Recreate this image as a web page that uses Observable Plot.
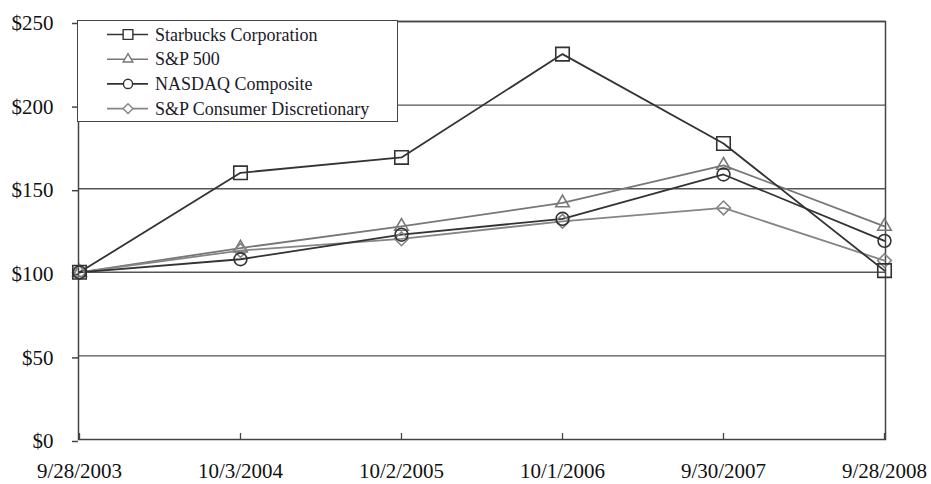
<!DOCTYPE html>
<html>
<head>
<meta charset="utf-8">
<script src="https://cdn.jsdelivr.net/npm/d3@7"></script>
<script src="https://cdn.jsdelivr.net/npm/@observablehq/plot@0.6"></script>
<style>
  html, body { margin: 0; padding: 0; background: #fff; }
  #wrap { position: relative; width: 931px; height: 484px; }
  #legend { position: absolute; left: 77px; top: 20px; width: 319px; height: 100px;
            border: 1.5px solid #444; background: #fff; }
  svg { font-family: "Liberation Serif", "Times New Roman", serif; overflow: visible; }
</style>
</head>
<body>
<div id="wrap"></div>
<script>
const dates = ["9/28/2003", "10/3/2004", "10/2/2005", "10/1/2006", "9/30/2007", "9/28/2008"];
const seriesNames = ["Starbucks Corporation", "S&P 500", "NASDAQ Composite", "S&P Consumer Discretionary"];
const starbucks = [100, 159.5, 168.7, 230.5, 177, 101];
const sp500 = [100, 114.5, 127.5, 141.5, 164, 127.5];
const nasdaq = [100, 107.8, 122.5, 132, 158.5, 118.8];
const consDisc = [100, 113, 120, 130.5, 138.5, 107];
const yTicks = [0, 50, 100, 150, 200, 250];

const seriesValues = [starbucks, sp500, nasdaq, consDisc];
const styles = [
  {symbol: "square", r: 7.6, color: "#333333", lr: 5.5},
  {symbol: "triangle", r: 5, color: "#777777", lr: 3.6},
  {symbol: "circle", r: 6.4, color: "#333333", lr: 4.6},
  {symbol: "diamond2", r: 6.2, color: "#858585", lr: 4.4}
];

const rows = [];
seriesNames.forEach((s, i) => dates.forEach((d, j) => rows.push({series: s, date: d, value: seriesValues[i][j]})));

const marks = [
  Plot.ruleY(yTicks.filter(v => v > 0), {stroke: "#555", strokeWidth: 1.4}),
  Plot.frame({stroke: "#444", strokeWidth: 1.5}),
  Plot.axisY(yTicks, {tickSize: 6, tickPadding: 19, tickFormat: d => "$" + d, fontSize: 21, fill: "#111", stroke: "#444", strokeWidth: 1.5, dy: 2}),
  Plot.axisX({tickSize: 0, tickPadding: 24, fontSize: 21, fill: "#111"}),
  Plot.tickX(dates, {x: d => d, insetTop: 412, stroke: "#444", strokeWidth: 1.3})
];
// lines: lighter ones first
[1, 3, 2, 0].forEach(i => {
  const data = rows.filter(r => r.series === seriesNames[i]);
  marks.push(Plot.line(data, {x: "date", y: "value", stroke: styles[i].color, strokeWidth: 1.8}));
});
[1, 3, 2, 0].forEach(i => {
  const data = rows.filter(r => r.series === seriesNames[i]);
  marks.push(Plot.dot(data, {x: "date", y: "value", symbol: () => styles[i].symbol, r: styles[i].r, stroke: styles[i].color, strokeWidth: 1.6, fill: "none"}));
});

const chart = Plot.plot({
  width: 931,
  height: 484,
  marginLeft: 78,
  marginRight: 46,
  marginTop: 21,
  marginBottom: 45,
  style: {fontFamily: "'Liberation Serif', 'Times New Roman', serif", background: "#fff", overflow: "visible"},
  x: {type: "point", domain: dates, padding: 0, label: null},
  y: {domain: [0, 250], label: null},
  symbol: {type: "identity"},
  marks
});
document.getElementById("wrap").appendChild(chart);

// legend overlay
const legend = d3.select("#wrap").append("div").attr("id", "legend");
const lsvg = legend.append("svg").attr("width", 319).attr("height", 100)
  .style("font-family", "'Liberation Serif', 'Times New Roman', serif");
const symMap = {square: d3.symbolSquare, triangle: d3.symbolTriangle, circle: d3.symbolCircle, diamond2: d3.symbolDiamond2};
seriesNames.forEach((name, i) => {
  const cy = 13.5 + i * 24.7;
  const g = lsvg.append("g").attr("transform", `translate(0,${cy})`);
  const st = styles[i];
  g.append("line").attr("x1", 29).attr("x2", 70).attr("y1", 0).attr("y2", 0)
    .attr("stroke", st.color).attr("stroke-width", 1.6);
  g.append("path").attr("transform", "translate(50,0)")
    .attr("d", d3.symbol(symMap[st.symbol], st.lr * st.lr * Math.PI)())
    .attr("fill", "#fff").attr("stroke", st.color).attr("stroke-width", 1.4);
  g.append("text").attr("x", 77).attr("y", 0).attr("dy", "0.34em")
    .attr("font-size", 18).attr("fill", "#1a1a2a").text(name);
});
</script>
</body>
</html>
